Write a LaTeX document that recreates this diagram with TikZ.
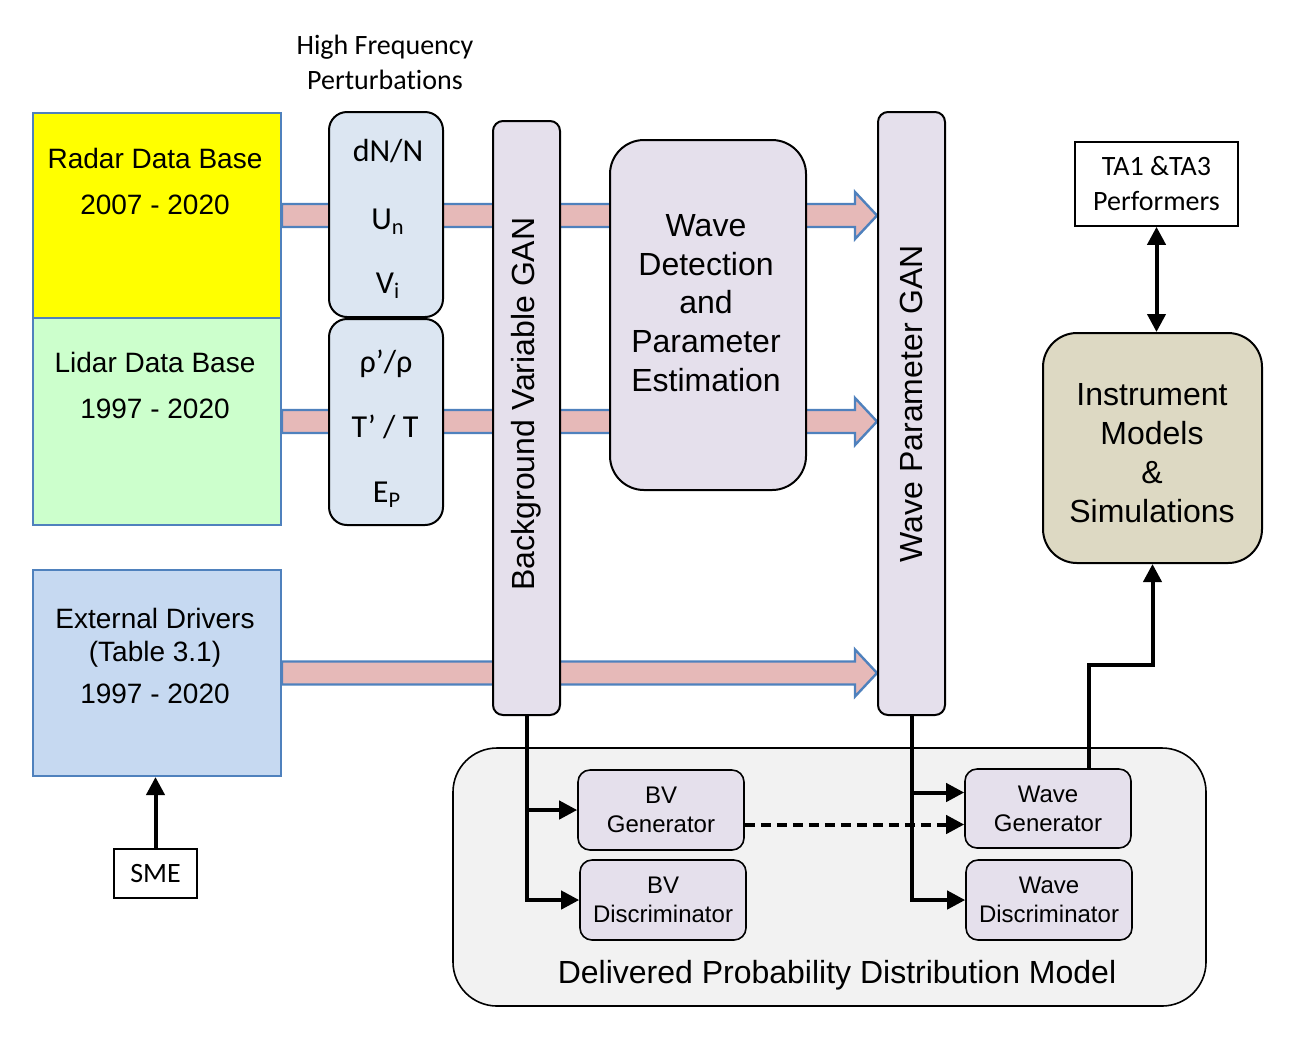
\documentclass[tikz,border=0pt]{standalone}
\usepackage{fontspec}
\setmainfont{Liberation Sans}
\newfontfamily\calibri[Ligatures=NoCommon]{Carlito}
\usetikzlibrary{calc,arrows.meta,backgrounds}

\definecolor{dbblue}{RGB}{79,129,189}
\definecolor{radarfill}{RGB}{255,255,0}
\definecolor{lidarfill}{RGB}{204,255,204}
\definecolor{extfill}{RGB}{198,217,241}
\definecolor{hffill}{RGB}{220,230,242}
\definecolor{ganfill}{RGB}{229,224,236}
\definecolor{instrfill}{RGB}{221,217,195}
\definecolor{dpdmfill}{RGB}{242,242,242}
\definecolor{bandfill}{RGB}{230,185,184}

\tikzset{
  dbbox/.style={draw=dbblue, line width=1pt, inner sep=0pt, minimum width=124pt},
  dbtxt/.style={align=center, font=\fontsize{14}{23}\selectfont},
  hfbox/.style={draw=black, line width=1pt, fill=hffill, rounded corners=9pt, minimum width=57pt},
  hftxt/.style={anchor=base, inner sep=0pt, font=\calibri\fontsize{16}{19}\selectfont},
  ganbox/.style={draw=black, line width=1pt, fill=ganfill, rounded corners=5pt, minimum width=33.5pt},
  gantxt/.style={rotate=90, font=\fontsize{16}{19}\selectfont},
  bigtxt/.style={align=center, font=\fontsize{16}{19.4}\selectfont},
  subbox/.style={draw=black, line width=0.8pt, fill=ganfill, rounded corners=6pt, minimum width=83pt, minimum height=40pt, align=center, font=\fontsize{12}{14.5}\selectfont},
  plainbox/.style={draw=black, line width=0.8pt, fill=white, align=center, font=\calibri\fontsize{14}{17.5}\selectfont},
  band/.style={draw=dbblue, line width=1.2pt, fill=bandfill},
  conn/.style={line width=2pt, -{Triangle[length=9pt,width=9pt]}},
  dconn/.style={line width=2pt, {Triangle[length=9pt,width=9pt]}-{Triangle[length=9pt,width=9pt]}},
  dashconn/.style={line width=2pt, dash pattern=on 5pt off 3pt, -{Triangle[length=9pt,width=9pt]}}
}

% wide band arrow from a data base to the wave parameter GAN
\newcommand{\bandarrow}[1]{%
  \draw[band] ($(#1.east)+(0,-11.5)$) -- ($(#1.east -| wpgan.west)+(-22,-11.5)$) -- ++(0,-12)
    -- (#1.east -| wpgan.west) -- ($(#1.east -| wpgan.west)+(-22,23.5)$) -- ++(0,-12)
    -- ($(#1.east)+(0,11.5)$) -- cycle;}

\begin{document}
\begin{tikzpicture}[x=0.5pt, y=-0.5pt]
\useasboundingbox (0,0) rectangle (1304,1040);

%%% data bases
\node[dbbox, fill=radarfill, minimum height=102.5pt] (radar) at (157,215.5) {};
\node[dbbox, fill=lidarfill, minimum height=103.5pt] (lidar) at (157,421.5) {};
\node[dbbox, fill=extfill, minimum height=103pt] (ext) at (157,673) {};
\node[dbtxt] (radartxt) at (155,181.5) {Radar Data Base\\2007 - 2020};
\node[dbtxt] (lidartxt) at (155,385) {Lidar Data Base\\1997 - 2020};
\node[dbtxt, font=\fontsize{14}{16.5}\selectfont] (exttxt) at (155,655.5) {External Drivers\\(Table 3.1)\\[4.5pt]1997 - 2020};
\node[plainbox, minimum width=41.5pt, minimum height=24.5pt] (sme) at (155.5,873.5) {SME};

%%% high frequency perturbations
\node[align=center, font=\calibri\fontsize{14}{17.5}\selectfont] (hflabel) at (385,62.5) {High Frequency\\Perturbations};
\node[hfbox, minimum height=102.5pt] (hfradar) at (386,214.5) {};
\node[hfbox, minimum height=103pt] (hflidar) at (386,422) {};
\node[hftxt] (dn) at (388,161) {dN/N};
\node[hftxt] (un) at (388,229) {U\textsubscript{n}};
\node[hftxt] (vi) at (388,293) {V\textsubscript{i}};
\node[hftxt] (rho) at (386,372) {ρ’/ρ};
\node[hftxt] (tt) at (385,437) {T’ / T};
\node[hftxt] (ep) at (387,502) {E\textsubscript{P}};

%%% GANs and estimation
\node[ganbox, minimum height=297pt] (bvgan) at (526.5,418) {};
\node[gantxt] (bvgantxt) at (526,404) {Background Variable GAN};
\node[draw=black, line width=1pt, fill=ganfill, rounded corners=17pt, minimum width=98pt, minimum height=175pt] (wdet) at (708,315) {};
\node[bigtxt] (wdettxt) at (706,303) {Wave\\Detection\\and\\Parameter\\Estimation};
\node[ganbox, minimum height=301.5pt] (wpgan) at (911.5,413.5) {};
\node[gantxt] (wpgantxt) at (911,403.5) {Wave Parameter GAN};

%%% instrument side
\node[plainbox, minimum width=81.5pt, minimum height=42pt] (ta) at (1156.5,184) {TA1 \&TA3\\Performers};
\node[draw=black, line width=1pt, fill=instrfill, rounded corners=17pt, minimum width=109.5pt, minimum height=115pt] (instr) at (1152.5,448) {};
\node[bigtxt] (instrtxt) at (1152,453) {Instrument\\Models\\\&\\Simulations};

%%% delivered model
\node[draw=black, line width=0.8pt, fill=dpdmfill, rounded corners=22pt, minimum width=376.5pt, minimum height=129pt] (dpdm) at (829.5,877) {};
\node[font=\fontsize{16}{19}\selectfont] (dpdmtxt) at (837,975) {Delivered Probability Distribution Model};
\node[subbox] (bvgen) at (661,810) {BV\\Generator};
\node[subbox] (bvdisc) at (663,900) {BV\\Discriminator};
\node[subbox, minimum height=39.5pt] (wgen) at (1048,808.5) {Wave\\Generator};
\node[subbox] (wdisc) at (1049,900) {Wave\\Discriminator};

%%% bands
\begin{pgfonlayer}{background}
\bandarrow{radar}
\bandarrow{lidar}
\bandarrow{ext}
\end{pgfonlayer}

%%% connectors
\coordinate (wgenin) at ([yshift=8pt]wgen.west);
\coordinate (wgendash) at ([yshift=-8pt]wgen.west);
\coordinate (wgenup) at ([xshift=20.5pt]wgen.north);
\draw[conn] (sme.north) -- (sme.north |- ext.south);
\draw[conn] (bvgan.south) |- (bvdisc.west);
\draw[conn] (bvgan.south |- bvgen.west) -- (bvgen.west);
\draw[conn] (wpgan.south) |- (wdisc.west);
\draw[conn] (wpgan.south |- wgenin) -- (wgenin);
\draw[dashconn] (bvgen.east |- wgendash) -- (wgendash);
\draw[conn] (wgenup) -- ++(0,-103) -| (instr.south);
\draw[dconn] (ta.south) -- (ta.south |- instr.north);

\end{tikzpicture}
\end{document}
